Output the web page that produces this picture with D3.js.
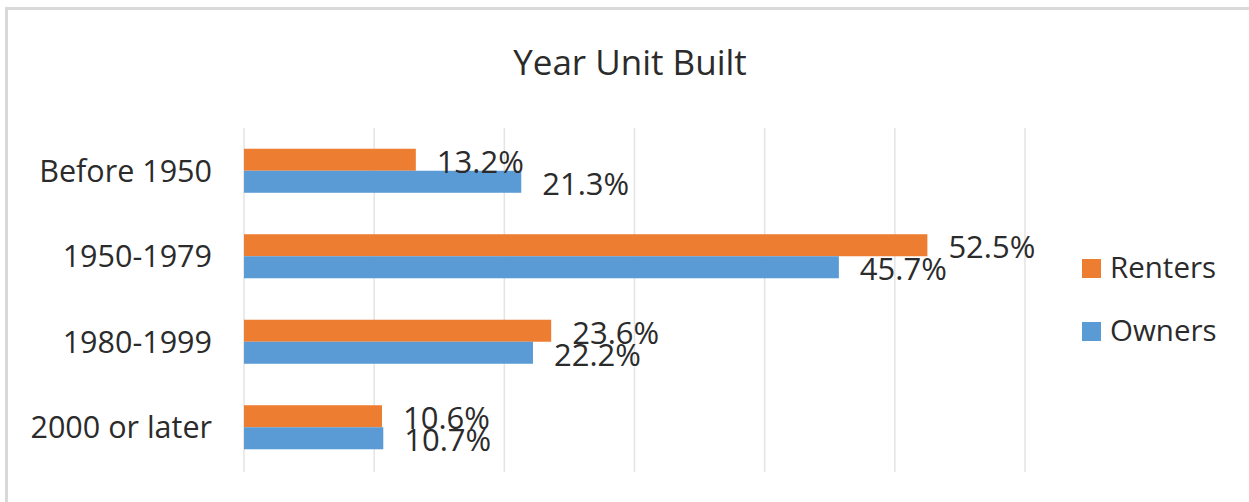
<!DOCTYPE html>
<html lang="en">
<head>
    <meta charset="UTF-8">
    <title>Year Unit Built</title>
    <style>
        body {
            margin: 0;
            padding: 0;
            background: #fff;
            font-family: "Open Sans", sans-serif;
        }
        .grid line {
            stroke: #e3e3e3;
            stroke-width: 1.5;
        }
        text {
            fill: #2b2b2b;
        }
    </style>
</head>
<body>
    <svg id="chart"></svg>

    <script src="https://cdnjs.cloudflare.com/ajax/libs/d3/7.9.0/d3.js"></script>
    <script>
        const categories = ['Before 1950', '1950-1979', '1980-1999', '2000 or later'];
        const seriesNames = ['Renters', 'Owners'];
        const renters = [13.2, 52.5, 23.6, 10.6];
        const owners = [21.3, 45.7, 22.2, 10.7];
        const xTicks = [0, 10, 20, 30, 40, 50, 60];

        const width = 1249;
        const height = 502;
        const color = d3.scaleOrdinal().domain(seriesNames).range(['#ed7d31', '#5b9bd5']);

        const svg = d3.select('#chart')
            .attr('width', width)
            .attr('height', height);

        // chart frame (right and bottom edges fall outside the picture)
        svg.append('rect')
            .attr('x', 6.5)
            .attr('y', 8.5)
            .attr('width', width + 20)
            .attr('height', height + 20)
            .attr('fill', 'none')
            .attr('stroke', '#d9d9d9')
            .attr('stroke-width', 3);

        svg.append('text')
            .attr('x', 630)
            .attr('y', 75)
            .attr('text-anchor', 'middle')
            .style('font-size', '35px')
            .text('Year Unit Built');

        const x = d3.scaleLinear().domain([0, 60]).range([244, 1025]);
        const y = d3.scaleBand().domain(categories).range([128, 470]).paddingInner(0.485).paddingOuter(0.2425);
        const ySub = d3.scaleBand().domain(seriesNames).range([0, y.bandwidth()]);

        svg.append('g')
            .attr('class', 'grid')
            .selectAll('line')
            .data(xTicks)
            .enter().append('line')
            .attr('x1', d => x(d))
            .attr('x2', d => x(d))
            .attr('y1', 128)
            .attr('y2', 472);

        // category labels
        svg.append('g')
            .selectAll('text')
            .data(categories)
            .enter().append('text')
            .attr('x', 212)
            .attr('y', d => y(d) + y.bandwidth() / 2)
            .attr('dy', '0.36em')
            .attr('text-anchor', 'end')
            .style('font-size', '30.5px')
            .text(d => d);

        const rows = categories.map((c, i) => ({ category: c, values: [
            { series: 'Renters', value: renters[i] },
            { series: 'Owners', value: owners[i] }
        ] }));

        const group = svg.append('g')
            .selectAll('g')
            .data(rows)
            .enter().append('g')
            .attr('transform', d => `translate(0,${y(d.category)})`);

        group.selectAll('rect')
            .data(d => d.values)
            .enter().append('rect')
            .attr('x', x(0))
            .attr('y', d => ySub(d.series))
            .attr('width', d => x(d.value) - x(0))
            .attr('height', ySub.bandwidth())
            .attr('fill', d => color(d.series));

        group.selectAll('text')
            .data(d => d.values)
            .enter().append('text')
            .attr('x', d => x(d.value) + 21)
            .attr('y', d => ySub(d.series) + ySub.bandwidth() + 2)
            .style('font-size', '31px')
            .text(d => d.value.toFixed(1) + '%');

        // legend
        const legend = svg.append('g')
            .selectAll('g')
            .data(seriesNames)
            .enter().append('g')
            .attr('transform', (d, i) => `translate(1082,${259 + i * 63})`);

        legend.append('rect')
            .attr('width', 19)
            .attr('height', 19)
            .attr('fill', d => color(d));

        legend.append('text')
            .attr('x', 28)
            .attr('y', 19)
            .style('font-size', '29.5px')
            .text(d => d);
    </script>
</body>
</html>
